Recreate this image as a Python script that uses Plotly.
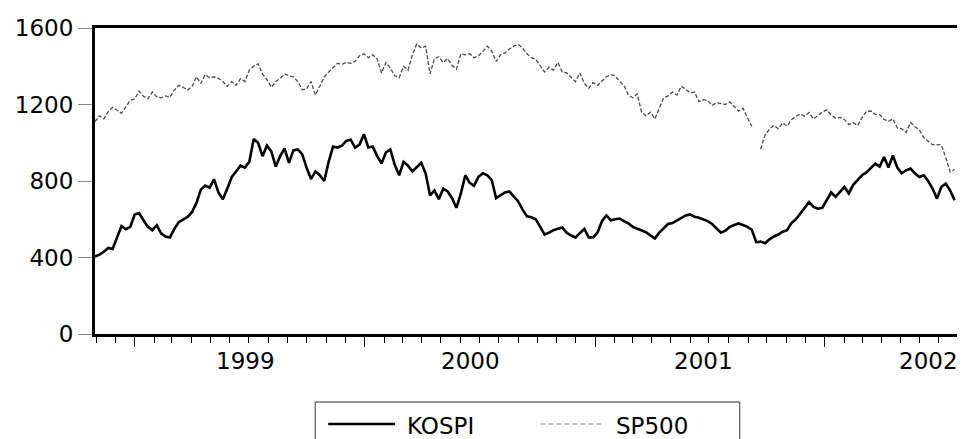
import pandas as pd
import plotly.graph_objects as go

# Weekly observations (Fridays) starting 1998-10-30
start_date = "1998-10-30"

kospi = [
    405, 415, 430, 450, 445, 500, 565, 548, 560, 625,
    632, 595, 560, 543, 569, 526, 510, 505, 550, 585,
    600, 612, 637, 684, 755, 776, 765, 809, 740, 705,
    760, 820, 850, 880, 870, 900, 1020, 1000, 930, 985,
    955, 875, 930, 970, 895, 960, 965, 940, 870, 810,
    850, 830, 800, 900, 980, 975, 985, 1010, 1016, 975,
    990, 1045, 975, 980, 930, 892, 950, 965, 885, 830,
    900, 880, 850, 875, 895, 840, 725, 750, 705, 760,
    745, 710, 660, 735, 830, 790, 775, 823, 840, 830,
    805, 710, 725, 740, 745, 720, 693, 650, 615, 610,
    600, 560, 520, 530, 543, 550, 557, 530, 515, 505,
    530, 550, 505, 505, 530, 590, 620, 595, 600, 604,
    590, 578, 560, 550, 540, 532, 515, 500, 530, 552,
    575, 580, 592, 605, 620, 625, 613, 608, 600, 590,
    575, 550, 530, 540, 560, 570, 578, 570, 560, 545,
    480, 483, 475, 495, 510, 520, 535, 543, 580, 600,
    630, 655, 690, 665, 655, 660, 700, 740, 717, 745,
    769, 735, 780, 805, 830, 845, 870, 891, 875, 925,
    870, 934, 870, 840, 856, 865, 840, 821, 830, 800,
    760, 708, 770, 786, 750, 700,
]

sp500 = [
    1110, 1141, 1125, 1163, 1185, 1170, 1155, 1188, 1222, 1229,
    1270, 1243, 1230, 1265, 1240, 1235, 1245, 1238, 1276, 1300,
    1290, 1275, 1293, 1345, 1310, 1356, 1340, 1345, 1337, 1320,
    1295, 1320, 1300, 1335, 1320, 1380, 1400, 1413, 1360, 1330,
    1290, 1320, 1336, 1360, 1350, 1345, 1320, 1277, 1282, 1320,
    1250, 1295, 1345, 1370, 1395, 1415, 1410, 1420, 1415, 1425,
    1455, 1465, 1445, 1460, 1440, 1365, 1420, 1390, 1350, 1340,
    1400, 1380, 1460, 1517, 1495, 1505, 1360, 1440, 1450, 1420,
    1440, 1405, 1385, 1465, 1460, 1465, 1445, 1455, 1478, 1505,
    1480, 1425, 1460, 1470, 1490, 1505, 1515, 1495, 1465, 1445,
    1436, 1400, 1370, 1395, 1380, 1420, 1370, 1365, 1340, 1320,
    1365, 1310, 1285, 1315, 1300, 1320, 1345, 1355, 1350, 1320,
    1300, 1250, 1235, 1255, 1160, 1140, 1160, 1125, 1180, 1235,
    1245, 1265, 1250, 1295, 1280, 1260, 1265, 1215, 1225, 1220,
    1195, 1210, 1205, 1200, 1214, 1190, 1165, 1180, 1135, 1085,
    None, 966, 1040, 1071, 1091, 1073, 1104, 1087, 1120, 1138,
    1150, 1139, 1158, 1124, 1144, 1161, 1172, 1146, 1128, 1133,
    1122, 1096, 1105, 1090, 1131, 1164, 1166, 1149, 1147, 1122,
    1112, 1125, 1077, 1073, 1054, 1106, 1084, 1067, 1027, 1007,
    990, 990, 989, 921, 847, 860,
]

dates = pd.date_range(start_date, periods=len(kospi), freq="7D")

y_ticks = [0, 400, 800, 1200, 1600]
year_starts = ["1999-01-01", "2000-01-01", "2001-01-01", "2002-01-01"]
year_labels = ["1999", "2000", "2001", "2002"]
year_label_dates = ["1999-06-26", "2000-06-18", "2001-06-22", "2002-06-15"]

FONT = "DejaVu Sans"

fig = go.Figure()
fig.add_trace(go.Scatter(
    x=dates, y=sp500, mode="lines", name="SP500",
    line=dict(color="#4a4a4a", width=1.3, dash="4px,2px"),
    connectgaps=False, showlegend=False,
))
fig.add_trace(go.Scatter(
    x=dates, y=kospi, mode="lines", name="KOSPI",
    line=dict(color="black", width=2.6),
    showlegend=False,
))

annotations = []
for d, lab in zip(year_label_dates, year_labels):
    annotations.append(dict(
        x=d, xref="x", y=-0.088, yref="paper", text=lab, showarrow=False,
        xanchor="center", yanchor="middle",
        font=dict(family=FONT, size=23, color="black"),
    ))

# manual legend (positions in page pixels -> paper coords of the plot area)
def px_x(p):
    return (p - 95) / 867.0

def px_y(p):
    return (334 - p) / 306.0

shapes = [
    dict(type="rect", xref="paper", yref="paper",
         x0=px_x(316), x1=px_x(742), y0=px_y(402), y1=px_y(460),
         line=dict(color="#333333", width=1), fillcolor="white", layer="above"),
    dict(type="line", xref="paper", yref="paper",
         x0=px_x(329), x1=px_x(396), y0=px_y(424), y1=px_y(424),
         line=dict(color="black", width=2.5)),
    dict(type="line", xref="paper", yref="paper",
         x0=px_x(542), x1=px_x(605), y0=px_y(424), y1=px_y(424),
         line=dict(color="#888888", width=1.2, dash="5px,3px")),
]
annotations += [
    dict(x=px_x(406), y=px_y(426), xref="paper", yref="paper", text="KOSPI",
         showarrow=False, xanchor="left", yanchor="middle",
         font=dict(family=FONT, size=23, color="black")),
    dict(x=px_x(616), y=px_y(426), xref="paper", yref="paper", text="SP500",
         showarrow=False, xanchor="left", yanchor="middle",
         font=dict(family=FONT, size=23, color="black")),
]

# the page body adds an 8px offset; size the figure to compensate
fig.update_layout(
    width=957, height=431,
    margin=dict(l=87, r=3, t=20, b=105),
    paper_bgcolor="white", plot_bgcolor="white",
    showlegend=False,
    shapes=shapes, annotations=annotations,
    xaxis=dict(
        type="date", range=["1998-10-30", "2002-08-02"],
        tickvals=year_starts, showticklabels=False,
        ticks="outside", ticklen=10, tickwidth=1, tickcolor="black",
        minor=dict(dtick="M1", tick0="1999-01-01", ticks="outside", ticklen=6,
                   tickwidth=1, tickcolor="black", showgrid=False),
        showline=True, linewidth=3, linecolor="black", mirror=True,
        showgrid=False, zeroline=False,
    ),
    yaxis=dict(
        range=[0, 1600], tickvals=y_ticks,
        ticks="outside", ticklen=14, tickwidth=1, tickcolor="#888888",
        tickfont=dict(family=FONT, size=23, color="black"),
        showline=True, linewidth=3, linecolor="black", mirror=True,
        showgrid=False, zeroline=False,
    ),
)

fig.write_html("out.html")
